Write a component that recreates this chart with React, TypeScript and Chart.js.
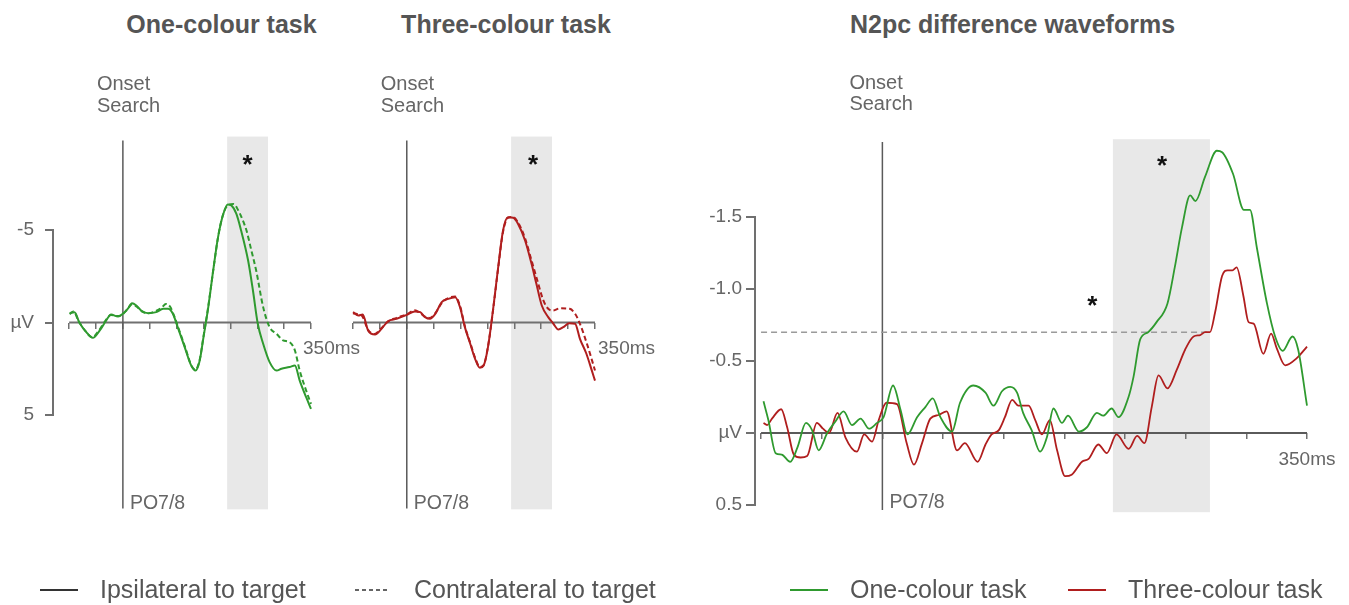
import React, { useEffect, useRef } from 'react';
import { Chart, registerables } from 'chart.js';

Chart.register(...registerables);

const FONT = "'Liberation Sans', Arial, Helvetica, sans-serif";
const GREEN = '#2f9a2f';
const RED = '#b01e1e';
const AXIS = '#707070';
const TICKTEXT = '#666666';
const TITLE = '#555555';

// ---------- data ----------
const msTicks = [-100, -50, 0, 50, 100, 150, 200, 250, 300, 350];
const lateralWindow: [number, number] = [194, 270];
const diffWindow: [number, number] = [190, 270];
const ampTicks = [-5, 0, 5];
const diffTicks = [-1.5, -1.0, -0.5, 0, 0.5];
const diffThreshold = -0.7;

// One-colour task, ipsilateral (solid) and contralateral (dashed), µV
const oneIpsiT = [-99, -90, -81, -68, -56, -43, -31, -22, -9, 1, 9, 17, 25, 34, 47, 62, 75, 84, 93, 102, 115, 127, 135, 143, 150, 158, 168, 177, 186, 195, 202, 211, 220, 233, 242, 251, 261, 273, 286, 295, 310, 320, 329, 341, 350];
const oneIpsiV = [-0.5, -0.56, 0, 0.52, 0.83, 0.43, -0.11, -0.43, -0.32, -0.5, -0.74, -1.04, -0.92, -0.65, -0.5, -0.56, -0.74, -0.74, -0.47, 0.25, 1.33, 2.32, 2.6, 2.05, 0.79, -0.65, -2.81, -4.6, -5.78, -6.38, -6.32, -5.88, -4.97, -3.35, -1.73, 0.07, 1.15, 2.14, 2.6, 2.5, 2.41, 2.32, 3.14, 4.04, 4.67];
const oneContraT = [-99, -92, -82, -70, -57, -45, -33, -22, -10, 0, 8, 17, 26, 35, 47, 60, 72, 80, 88, 96, 104, 116, 127, 135, 143, 150, 158, 168, 177, 186, 196, 206, 214, 222, 230, 239, 248, 261, 273, 286, 298, 310, 320, 329, 341, 350];
const oneContraV = [-0.45, -0.6, -0.05, 0.45, 0.8, 0.45, -0.08, -0.4, -0.35, -0.45, -0.7, -0.98, -0.85, -0.6, -0.5, -0.6, -0.8, -1.0, -0.85, -0.3, 0.35, 1.35, 2.3, 2.55, 2.0, 0.75, -0.7, -2.8, -4.6, -5.8, -6.35, -6.4, -6.1, -5.6, -4.97, -3.9, -2.81, -0.83, 0.25, 0.61, 0.97, 1.06, 1.51, 2.6, 3.68, 4.4];

// Three-colour task
const threeIpsiT = [-100, -90, -82, -72, -59, -47, -35, -19, 0, 15, 25, 34, 43, 53, 65, 77, 90, 99, 108, 118, 127, 136, 143, 151, 161, 170, 179, 188, 198, 207, 220, 232, 241, 251, 263, 272, 282, 291, 302, 313, 322, 334, 344, 350];
const threeIpsiV = [-0.56, -0.38, -0.43, 0.43, 0.65, 0.34, -0.07, -0.2, -0.41, -0.6, -0.56, -0.29, -0.2, -0.47, -1.1, -1.28, -1.37, -0.83, 0.25, 1.15, 1.96, 2.45, 2.32, 1.33, -0.83, -3.0, -4.97, -5.69, -5.66, -5.33, -4.43, -3.17, -2.09, -0.92, -0.29, 0.04, 0.38, 0.25, 0.04, 0.07, 0.88, 1.69, 2.59, 3.14];
const threeContraT = [-100, -92, -83, -72, -60, -47, -35, -19, 0, 15, 25, 34, 43, 53, 65, 77, 90, 99, 108, 118, 127, 136, 143, 151, 161, 170, 179, 188, 198, 207, 220, 232, 242, 254, 263, 272, 285, 303, 313, 322, 335, 350];
const threeContraV = [-0.5, -0.45, -0.35, 0.4, 0.62, 0.3, -0.05, -0.25, -0.45, -0.66, -0.5, -0.32, -0.25, -0.5, -1.05, -1.32, -1.4, -0.9, 0.2, 1.1, 1.9, 2.4, 2.3, 1.3, -0.8, -2.95, -4.9, -5.65, -5.7, -5.4, -4.55, -3.35, -2.35, -1.19, -0.74, -0.65, -0.77, -0.74, -0.47, 0.07, 1.15, 2.59];

// N2pc difference waveforms (contra - ipsi), µV
const diffOneT = [-98, -94, -88, -83, -76, -70, -63, -58, -52.5, -45.5, -38.7, -32, -25, -18, -11, -4.4, 1, 8.8, 15, 20.6, 28.6, 35.4, 41.5, 47.8, 57.4, 64, 75, 85, 91.6, 98.6, 105.4, 111, 116, 123, 130, 135.6, 141, 148, 153, 162, 168.6, 176.8, 182, 189, 194.6, 202.9, 207, 212.5, 219, 226, 235, 241, 247, 253.7, 258, 266, 275.7, 280, 289, 298, 303, 308.6, 317, 323.7, 330, 338, 342.7, 350];
const diffOneV = [-0.22, -0.09, 0.14, 0.15, 0.2, 0.1, -0.07, -0.02, 0.12, 0, -0.08, -0.15, -0.055, -0.1, -0.03, -0.07, -0.11, -0.33, -0.16, 0.01, -0.11, -0.18, -0.24, -0.11, -0.01, -0.21, -0.33, -0.28, -0.19, -0.29, -0.32, -0.28, -0.14, -0.02, 0.13, 0.03, -0.17, -0.07, -0.12, -0.01, -0.04, -0.14, -0.12, -0.17, -0.11, -0.25, -0.39, -0.65, -0.7, -0.77, -0.9, -1.15, -1.43, -1.65, -1.61, -1.78, -1.96, -1.95, -1.8, -1.55, -1.55, -1.29, -0.9, -0.67, -0.57, -0.67, -0.58, -0.19];
const diffThreeT = [-98, -95, -91, -83.4, -78.5, -73, -67.5, -62, -54, -49, -44, -37, -30.5, -21, -15, -8.5, -3, 3.3, 12, 20, 26, 32.7, 39.5, 46.4, 53, 61.5, 68, 78.5, 85, 90, 96, 101, 107, 112, 120.5, 126, 131.5, 138, 144, 150.7, 156, 164.5, 170, 178, 185, 193, 203, 210, 216, 222, 227.6, 235, 242.7, 249.6, 256.5, 262, 266, 270, 274.3, 280, 284.6, 288.5, 292, 297.6, 301.8, 306, 314, 320.4, 325, 332, 341.6, 350];
const diffThreeV = [-0.07, -0.055, -0.1, -0.165, -0.04, 0.15, 0.17, 0.16, -0.07, -0.03, 0, -0.14, 0.03, 0.13, 0.01, 0.06, -0.09, -0.21, -0.2, 0.07, 0.22, 0.07, -0.1, -0.125, -0.15, 0.12, 0.07, 0.2, 0.08, 0.01, -0.02, -0.11, -0.23, -0.19, -0.19, -0.09, 0.01, -0.09, 0.12, 0.3, 0.29, 0.2, 0.18, 0.08, 0.14, 0.01, 0.11, 0.02, 0.07, -0.18, -0.4, -0.31, -0.44, -0.58, -0.67, -0.68, -0.7, -0.7, -0.84, -1.09, -1.13, -1.13, -1.15, -0.95, -0.77, -0.76, -0.55, -0.69, -0.59, -0.47, -0.52, -0.6];

const titles = ['One-colour task', 'Three-colour task', 'N2pc difference waveforms'];
const legendLabels = ['Ipsilateral to target', 'Contralateral to target', 'One-colour task', 'Three-colour task'];

// ---------- helpers ----------
const pts = (t: number[], v: number[]) => t.map((x, i) => ({ x, y: v[i] }));

type Note = { text: string; x: number; y: number; dx?: number; size: number; bold?: boolean; color: string; align?: CanvasTextAlign };
type Line = { data: { x: number; y: number }[]; color: string; width: number; dash: number[]; curve: boolean };
type Spec = {
  xMin: number; xMax: number; yMin: number; yMax: number;
  pad: { left: number; top: number; right: number; bottom: number };
  yAxis: null | { width: number; ticks: number[]; tickLength: number; padding: number; fmt: (v: number) => string };
  xLabelAlign: 'start' | 'center'; xLabelOffset: number; xLabelPad: number;
  window: [number, number];
  shade: [number, number];
  lines: Line[];
  notes: Note[];
};

const shadePlugin = (win: [number, number], range: [number, number]) => ({
  id: 'shade',
  beforeDraw(chart: any) {
    const { ctx, scales: { x, y } } = chart;
    const x1 = x.getPixelForValue(win[0]);
    const x2 = x.getPixelForValue(win[1]);
    const y1 = y.getPixelForValue(range[0]);
    const y2 = y.getPixelForValue(range[1]);
    ctx.save();
    ctx.fillStyle = '#e8e8e8';
    ctx.fillRect(x1, Math.min(y1, y2), x2 - x1, Math.abs(y2 - y1));
    ctx.restore();
  },
});

const notesPlugin = (notes: Note[]) => ({
  id: 'notes',
  afterDatasetsDraw(chart: any) {
    const { ctx, scales: { x, y } } = chart;
    ctx.save();
    notes.forEach((n) => {
      ctx.font = `${n.bold ? 'bold ' : ''}${n.size}px ${FONT}`;
      ctx.fillStyle = n.color;
      ctx.textAlign = n.align || 'left';
      ctx.textBaseline = 'middle';
      ctx.fillText(n.text, x.getPixelForValue(n.x) + (n.dx || 0), y.getPixelForValue(n.y));
    });
    ctx.restore();
  },
});

function makeConfig(s: Spec): any {
  const datasets = s.lines.map((l) => ({
    data: l.data,
    borderColor: l.color,
    borderWidth: l.width,
    borderDash: l.dash,
    pointRadius: 0,
    pointHoverRadius: 0,
    fill: false,
    clip: false,
    tension: l.curve ? 0.4 : 0,
    cubicInterpolationMode: l.curve ? 'monotone' : 'default',
  }));
  const ya = s.yAxis;
  return {
    type: 'line',
    data: { datasets },
    plugins: [shadePlugin(s.window, s.shade), notesPlugin(s.notes)],
    options: {
      responsive: false,
      animation: false,
      events: [],
      layout: { padding: s.pad },
      plugins: { legend: { display: false }, tooltip: { enabled: false }, title: { display: false } },
      scales: {
        x: {
          type: 'linear',
          min: s.xMin,
          max: s.xMax,
          position: { y: 0 },
          afterBuildTicks: (axis: any) => { axis.ticks = msTicks.map((value) => ({ value })); },
          ticks: {
            autoSkip: false,
            maxRotation: 0,
            minRotation: 0,
            align: s.xLabelAlign,
            labelOffset: s.xLabelOffset,
            padding: s.xLabelPad,
            color: TICKTEXT,
            font: { family: FONT, size: 19 },
            callback: (v: number) => (v === 350 ? '350ms' : ''),
          },
          grid: { drawOnChartArea: false, drawTicks: true, tickLength: 6, color: AXIS, lineWidth: 1.5 },
          border: { display: false },
        },
        y: {
          type: 'linear',
          min: s.yMin,
          max: s.yMax,
          reverse: true,
          position: 'left',
          display: !!ya,
          afterBuildTicks: (axis: any) => { if (ya) axis.ticks = ya.ticks.map((value) => ({ value })); },
          afterFit: (axis: any) => { if (ya) axis.width = ya.width; },
          ticks: {
            padding: ya ? ya.padding : 0,
            color: TICKTEXT,
            font: { family: FONT, size: 19 },
            callback: (v: number) => (ya ? ya.fmt(v) : ''),
          },
          grid: { drawOnChartArea: false, drawTicks: true, tickLength: ya ? ya.tickLength : 0, color: AXIS, lineWidth: 2 },
          border: { display: true, color: AXIS, width: 2 },
        },
      },
    },
  };
}

const zeroLine = (from: number): Line => ({ data: [{ x: from, y: 0 }, { x: 350, y: 0 }], color: AXIS, width: 2, dash: [], curve: false });
const onsetLine = (a: number, b: number): Line => ({ data: [{ x: 0, y: a }, { x: 0, y: b }], color: '#5a5a5a', width: 1.5, dash: [], curve: false });

const onsetNotes = (onsetY: number, searchY: number, poY: number, dx: number): Note[] => [
  { text: 'Onset', x: 0, y: onsetY, dx, size: 20, color: TICKTEXT },
  { text: 'Search', x: 0, y: searchY, dx, size: 20, color: TICKTEXT },
  { text: 'PO7/8', x: 0, y: poY, dx: 7, size: 19.5, color: TICKTEXT },
];

const panelOne: Spec = {
  xMin: -130, xMax: 350, yMin: -5, yMax: 5,
  pad: { left: 0, top: 230, right: 1038, bottom: 190 },
  yAxis: { width: 53, ticks: ampTicks, tickLength: 8, padding: 11, fmt: (v) => (v === 0 ? 'µV' : String(v)) },
  xLabelAlign: 'start', xLabelOffset: -8, xLabelPad: 9,
  window: lateralWindow,
  shade: [-10.05, 10.1],
  lines: [
    { data: pts(oneIpsiT, oneIpsiV), color: GREEN, width: 2, dash: [], curve: true },
    { data: pts(oneContraT, oneContraV), color: GREEN, width: 2, dash: [5, 3], curve: true },
    onsetLine(-9.84, 10.05),
    zeroLine(-100),
  ],
  notes: [
    ...onsetNotes(-12.86, -11.68, 9.78, -26),
    { text: '*', x: 232, y: -8.49, size: 26, bold: true, color: '#111', align: 'center' },
  ],
};

const panelThree: Spec = {
  xMin: -100, xMax: 350, yMin: -5, yMax: 5,
  pad: { left: 353, top: 230, right: 754, bottom: 190 },
  yAxis: null,
  xLabelAlign: 'start', xLabelOffset: 3, xLabelPad: 9,
  window: lateralWindow,
  shade: [-10.05, 10.1],
  lines: [
    { data: pts(threeIpsiT, threeIpsiV), color: RED, width: 2, dash: [], curve: true },
    { data: pts(threeContraT, threeContraV), color: RED, width: 2, dash: [5, 3], curve: true },
    onsetLine(-9.84, 10.05),
    zeroLine(-100),
  ],
  notes: [
    ...onsetNotes(-12.86, -11.68, 9.78, -26),
    { text: '*', x: 234.6, y: -8.49, size: 26, bold: true, color: '#111', align: 'center' },
  ],
};

const panelDiff: Spec = {
  xMin: -105, xMax: 350, yMin: -1.5, yMax: 0.5,
  pad: { left: 0, top: 217, right: 42, bottom: 100 },
  yAxis: { width: 755, ticks: diffTicks, tickLength: 9, padding: 4, fmt: (v) => (v === 0 ? 'µV' : v.toFixed(1)) },
  xLabelAlign: 'center', xLabelOffset: 0, xLabelPad: 9,
  window: diffWindow,
  shade: [-2.04, 0.55],
  lines: [
    { data: pts(diffOneT, diffOneV), color: GREEN, width: 1.8, dash: [], curve: true },
    { data: pts(diffThreeT, diffThreeV), color: RED, width: 1.8, dash: [], curve: true },
    { data: [{ x: -100, y: diffThreshold }, { x: 270, y: diffThreshold }], color: '#9a9a9a', width: 1.5, dash: [6, 4], curve: false },
    onsetLine(-2.02, 0.535),
    { ...zeroLine(-100), color: '#5a5a5a' },
  ],
  notes: [
    ...onsetNotes(-2.43, -2.28, 0.486, -33),
    { text: '*', x: 230.6, y: -1.847, size: 26, bold: true, color: '#111', align: 'center' },
    { text: '*', x: 173, y: -0.875, size: 26, bold: true, color: '#111', align: 'center' },
  ],
};

const titleCenters = [221.5, 506, 1012.5];
const legendLineX = [[40, 78], [355, 390], [790, 828], [1068, 1106]];
const legendTextX = [100, 414, 850, 1128];
const legendColors = ['#333333', '#333333', GREEN, RED];
const legendDash = ['', '4 3', '', ''];

export default function App() {
  const r1 = useRef<HTMLCanvasElement>(null);
  const r2 = useRef<HTMLCanvasElement>(null);
  const r3 = useRef<HTMLCanvasElement>(null);

  useEffect(() => {
    const charts = [
      new Chart(r1.current as HTMLCanvasElement, makeConfig(panelOne)),
      new Chart(r2.current as HTMLCanvasElement, makeConfig(panelThree)),
      new Chart(r3.current as HTMLCanvasElement, makeConfig(panelDiff)),
    ];
    return () => charts.forEach((c) => c.destroy());
  }, []);

  const canvasStyle: React.CSSProperties = { position: 'absolute', left: 0, top: 0, width: 1349, height: 605 };

  return (
    <div style={{ position: 'absolute', left: 0, top: 0, width: 1349, height: 605, background: '#fff', overflow: 'hidden', fontFamily: FONT }}>
      {titles.map((t, i) => (
        <div key={t} style={{ position: 'absolute', left: titleCenters[i] - 250, width: 500, top: 12, textAlign: 'center', fontSize: 25, lineHeight: '25px', fontWeight: 'bold', color: TITLE, whiteSpace: 'nowrap' }}>{t}</div>
      ))}
      <canvas ref={r1} width={1349} height={605} style={canvasStyle} />
      <canvas ref={r2} width={1349} height={605} style={canvasStyle} />
      <canvas ref={r3} width={1349} height={605} style={canvasStyle} />
      <svg width={1349} height={20} style={{ position: 'absolute', left: 0, top: 580 }}>
        {legendLineX.map(([a, b], i) => (
          <line key={i} x1={a} x2={b} y1={10} y2={10} stroke={legendColors[i]} strokeWidth={i === 1 ? 1.5 : 2} strokeDasharray={legendDash[i] || undefined} />
        ))}
      </svg>
      {legendLabels.map((t, i) => (
        <div key={t + i} style={{ position: 'absolute', left: legendTextX[i], top: 577, fontSize: 25, lineHeight: '25px', color: TITLE, whiteSpace: 'nowrap' }}>{t}</div>
      ))}
    </div>
  );
}
